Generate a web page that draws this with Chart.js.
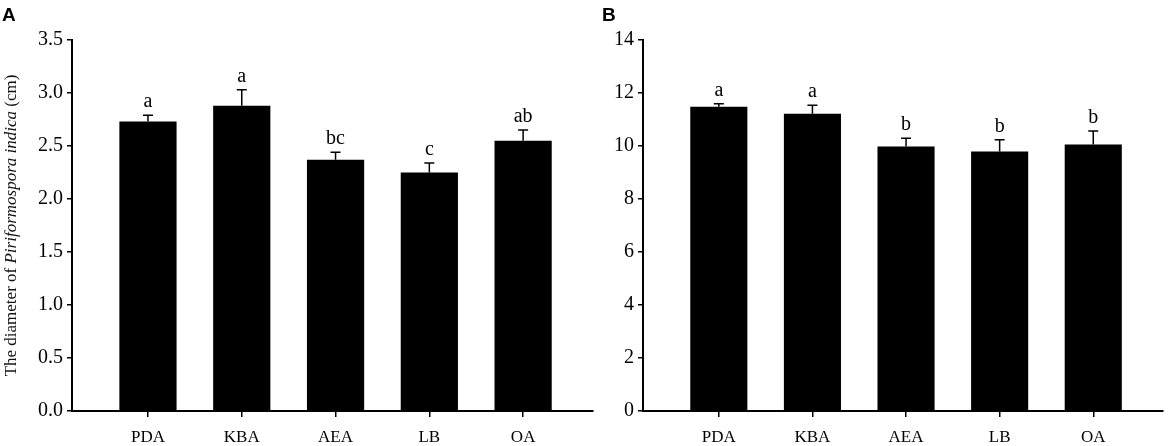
<!DOCTYPE html>
<html lang="en">
<head>
    <meta charset="UTF-8">
    <meta name="viewport" content="width=device-width,initial-scale=1">
    <title>Piriformospora indica diameter</title>
    <script src="https://cdn.jsdelivr.net/npm/chart.js@4.4.0/dist/chart.umd.min.js"></script>
    <style>
      body { margin: 0; background: #fff; }
      #panelA { position: absolute; left: 0; top: 0; }
      #panelB { position: absolute; left: 600px; top: 0; }
    </style>
</head>
<body>

  <canvas id="panelA" width="600" height="446"></canvas>
  <canvas id="panelB" width="570" height="446"></canvas>

  <script>

    /* Data. */
    const media = ["PDA", "KBA", "AEA", "LB", "OA"]

    const diameterA = [2.73, 2.88, 2.37, 2.25, 2.55]
    const errorA = [0.06, 0.15, 0.07, 0.09, 0.10]
    const lettersA = ["a", "a", "bc", "c", "ab"]

    const diameterB = [11.48, 11.22, 9.98, 9.79, 10.06]
    const errorB = [0.11, 0.32, 0.31, 0.45, 0.51]
    const lettersB = ["a", "a", "b", "b", "b"]

    const serif = "'Liberation Serif', 'Times New Roman', serif"

    /* Plugin: error bars, significance letters, panel letter and y title. */
    const annotate = {
      id: "annotate",
      afterDatasetsDraw(chart, args, opts) {
        const ctx = chart.ctx
        const xs = chart.scales.x
        const ys = chart.scales.y
        const values = chart.data.datasets[0].data

        ctx.save()
        ctx.strokeStyle = "#000"
        ctx.fillStyle = "#000"
        ctx.lineWidth = 1.5
        values.forEach((p, i) => {
          const px = xs.getPixelForValue(p.x)
          const top = ys.getPixelForValue(p.y)
          const errTop = ys.getPixelForValue(p.y + opts.errors[i])
          ctx.beginPath()
          ctx.moveTo(px, top)
          ctx.lineTo(px, errTop)
          ctx.moveTo(px - 5, errTop)
          ctx.lineTo(px + 5, errTop)
          ctx.stroke()

          ctx.font = "20px " + serif
          ctx.textAlign = "center"
          ctx.textBaseline = "alphabetic"
          ctx.fillText(opts.letters[i], px, errTop - 8)
        })

        /* Panel letter. */
        ctx.font = "bold 19px 'Liberation Sans', Arial, sans-serif"
        ctx.textAlign = "left"
        ctx.textBaseline = "alphabetic"
        ctx.fillText(opts.panel, 2, 21)

        /* Y title with italic species name. */
        if (opts.title) {
          const parts = opts.title
          const mid = (chart.chartArea.top + chart.chartArea.bottom) / 2
          ctx.translate(12, mid)
          ctx.rotate(-Math.PI / 2)
          ctx.textBaseline = "middle"
          let total = 0
          parts.forEach(t => {
            ctx.font = (t.italic ? "italic " : "") + "17px " + serif
            total += ctx.measureText(t.text).width
          })
          let x = -total / 2
          parts.forEach(t => {
            ctx.font = (t.italic ? "italic " : "") + "17px " + serif
            ctx.fillStyle = "#111"
            ctx.fillText(t.text, x, 0)
            x += ctx.measureText(t.text).width
          })
        }
        ctx.restore()
      }
    }

    /* Build one panel. */
    function makePanel(id, values, errors, letters, yMax, step, decimals, yWidth, panel, title) {
      const ctx = document.getElementById(id).getContext("2d")
      return new Chart(ctx, {
        type: "bar",
        data: {
          datasets: [{
            data: values.map((v, i) => ({ x: i, y: v })),
            backgroundColor: "#000",
            borderWidth: 0,
            barPercentage: 0.61,
            categoryPercentage: 1
          }]
        },
        options: {
          responsive: false,
          animation: false,
          devicePixelRatio: 1,
          layout: { padding: { top: 40, right: 7, left: 0, bottom: 0 } },
          plugins: {
            legend: { display: false },
            tooltip: { enabled: false },
            annotate: { errors: errors, letters: letters, panel: panel, title: title }
          },
          scales: {
            x: {
              type: "linear",
              min: -0.81,
              max: 4.745,
              offset: false,
              afterBuildTicks: scale => { scale.ticks = media.map((m, i) => ({ value: i })) },
              afterFit: scale => { scale.height = 35 },
              ticks: {
                autoSkip: false,
                maxRotation: 0,
                padding: 10,
                color: "#000",
                font: { family: serif, size: 17 },
                callback: v => media[v]
              },
              grid: { offset: false, drawOnChartArea: false, tickLength: 6, color: "#000", lineWidth: 1.5 },
              border: { color: "#000", width: 2 }
            },
            y: {
              min: 0,
              max: yMax,
              afterFit: scale => { scale.width = yWidth },
              ticks: {
                stepSize: step,
                padding: 4,
                color: "#000",
                font: { family: serif, size: 20 },
                callback: v => v.toFixed(decimals)
              },
              grid: { drawOnChartArea: false, tickLength: 5, color: "#000", lineWidth: 1.5 },
              border: { color: "#000", width: 2 }
            }
          }
        },
        plugins: [annotate]
      })
    }

    makePanel("panelA", diameterA, errorA, lettersA, 3.5, 0.5, 1, 72, "A", [
      { text: "The diameter of ", italic: false },
      { text: "Piriformospora indica", italic: true },
      { text: " (cm)", italic: false }
    ])
    makePanel("panelB", diameterB, errorB, lettersB, 14, 2, 0, 43, "B", null)

  </script>

</body>
</html>
